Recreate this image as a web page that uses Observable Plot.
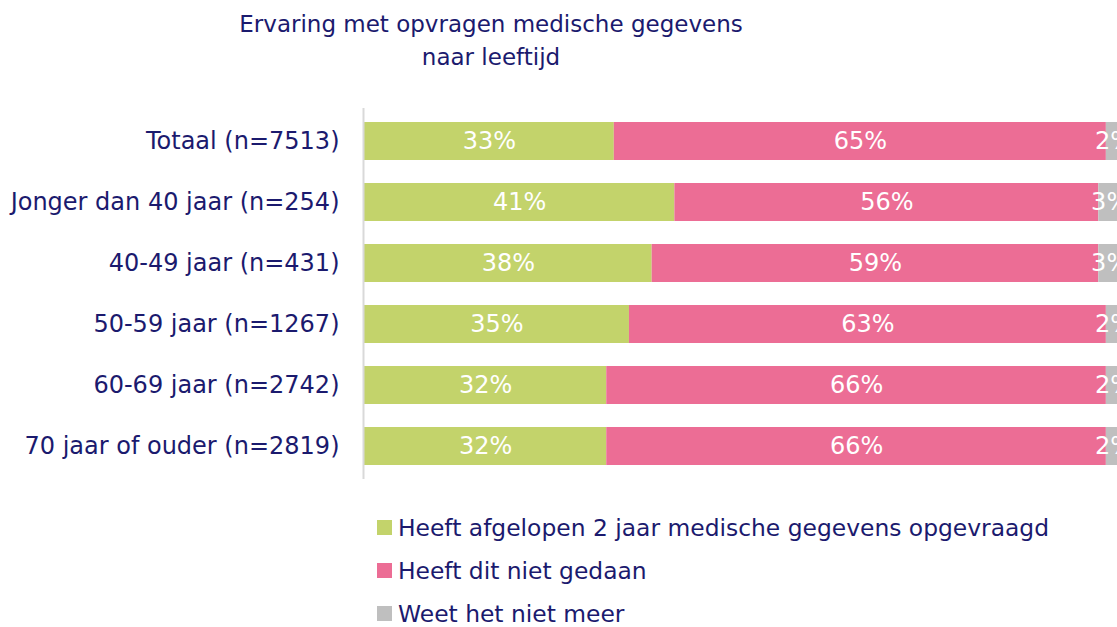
<!DOCTYPE html>
<html><head><meta charset="utf-8">
<script src="https://cdn.jsdelivr.net/npm/d3@7"></script>
<script src="https://cdn.jsdelivr.net/npm/@observablehq/plot@0.6"></script>
<style>
body{margin:0;background:#fff;font-family:"DejaVu Sans",sans-serif;color:#1b1a6e;width:1117px;height:627px;overflow:hidden}
#title{width:982px;height:86px;text-align:center;font-size:23px;line-height:33px;padding-top:8px;box-sizing:border-box}
#chart svg{display:block;overflow:hidden}
#legend{position:absolute;left:377px;top:506px}
.item{height:43px;display:flex;align-items:center;font-size:23.4px;white-space:nowrap}
.sw{width:15px;height:15px;margin-right:6px;flex:none}
</style></head><body>
<div id="title"><div>Ervaring met opvragen medische gegevens</div><div>naar leeftijd</div></div>
<div id="chart"></div>
<div id="legend"></div>
<script>
const categories = ["Totaal (n=7513)","Jonger dan 40 jaar (n=254)","40-49 jaar (n=431)","50-59 jaar (n=1267)","60-69 jaar (n=2742)","70 jaar of ouder (n=2819)"];
const seriesNames = ["Heeft afgelopen 2 jaar medische gegevens opgevraagd","Heeft dit niet gedaan","Weet het niet meer"];
const seriesColors = ["#c3d36b","#ec6d95","#bfbfbf"];
const opgevraagd = [33,41,38,35,32,32];
const nietGedaan = [65,56,59,63,66,66];
const weetNiet = [2,3,3,2,2,2];
const textColor = "#1b1a6e";

const valuesBySeries = [opgevraagd, nietGedaan, weetNiet];
const data = [];
seriesNames.forEach((s, si) => categories.forEach((c, ci) => data.push({cat: c, series: s, value: valuesBySeries[si][ci]})));

const chart = Plot.plot({
  width: 1117,
  height: 420,
  marginLeft: 364,
  marginRight: -4,
  marginTop: 22,
  marginBottom: 27,
  style: {fontFamily: '"DejaVu Sans", sans-serif', background: "transparent"},
  x: {domain: [0, 100], axis: null},
  y: {domain: categories, paddingInner: 0.37, paddingOuter: 0.185, label: null, tickSize: 0, tickPadding: 25},
  color: {domain: seriesNames, range: seriesColors},
  marks: [
    Plot.barX(data, {x: "value", y: "cat", fill: "series", z: "series", order: seriesNames}),
    Plot.text(data, Plot.stackX({x: "value", y: "cat", z: "series", order: seriesNames, text: d => d.value + "%", fill: "white", fontSize: 24})),
    Plot.ruleX([0], {stroke: "#d9d9d9", strokeWidth: 2, dx: -1}),
    Plot.axisY({tickSize: 0, tickPadding: 25, fontSize: 24, fill: textColor, label: null})
  ]
});
document.getElementById("chart").appendChild(chart);

const legend = document.getElementById("legend");
seriesNames.forEach((s, i) => {
  const it = document.createElement("div"); it.className = "item";
  const sw = document.createElement("span"); sw.className = "sw"; sw.style.background = seriesColors[i];
  const t = document.createElement("span"); t.textContent = s;
  it.appendChild(sw); it.appendChild(t); legend.appendChild(it);
});
</script>
</body></html>
